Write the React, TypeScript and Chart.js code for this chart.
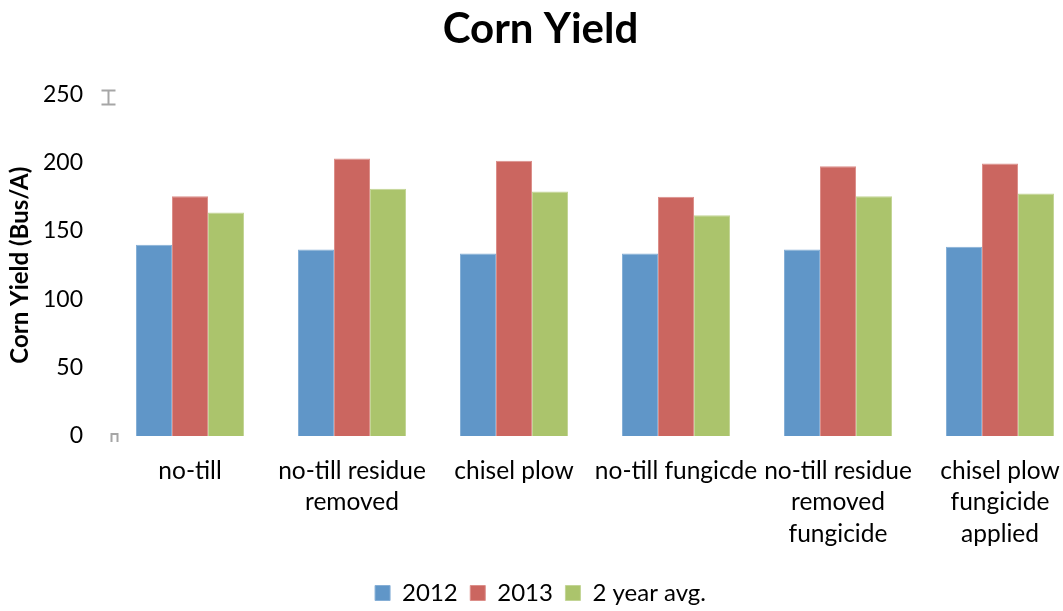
import React, { useEffect, useRef } from "react";
import { Chart, registerables } from "chart.js";

Chart.register(...registerables);

const categories: string[][] = [
  ["no-till"],
  ["no-till residue", "removed"],
  ["chisel plow"],
  ["no-till fungicde"],
  ["no-till residue", "removed", "fungicide"],
  ["chisel plow", "fungicide", "applied"],
];
const series2012 = [140, 136.5, 133.5, 133.5, 136.5, 138.5];
const series2013 = [175.5, 203, 201.5, 175, 197.5, 199.5];
const seriesAvg = [163.5, 181, 179, 161.5, 175.5, 177.5];
const seriesNames = ["2012", "2013", "2 year avg."];
const yMin = 0;
const yMax = 250;
const yStep = 50;

const FONT = "Lato, 'Open Sans', sans-serif";

export default function App() {
  const ref = useRef<HTMLCanvasElement>(null);

  useEffect(() => {
    if (!ref.current) return;
    const errGlyph = {
      id: "errGlyph",
      afterDatasetsDraw(chart: any) {
        const { ctx, chartArea, scales } = chart;
        const y = scales.y;
        const cx = chartArea.left - 0.5;
        const yTop = y.getPixelForValue(yMax);
        const y0 = y.getPixelForValue(yMin);
        ctx.save();
        ctx.strokeStyle = "#a6a6a6";
        ctx.lineWidth = 2;
        ctx.beginPath();
        ctx.moveTo(cx - 7, yTop - 4);
        ctx.lineTo(cx + 7, yTop - 4);
        ctx.moveTo(cx, yTop - 4);
        ctx.lineTo(cx, yTop + 10);
        ctx.moveTo(cx - 7, yTop + 10);
        ctx.lineTo(cx + 7, yTop + 10);
        ctx.stroke();
        ctx.beginPath();
        ctx.moveTo(cx + 3, y0 + 6);
        ctx.lineTo(cx + 3, y0 - 2);
        ctx.lineTo(cx + 9, y0 - 2);
        ctx.lineTo(cx + 9, y0 + 6);
        ctx.stroke();
        ctx.restore();
      },
    };

    const chart = new Chart(ref.current, {
      type: "bar",
      data: {
        labels: categories as any,
        datasets: [
          {
            label: seriesNames[0],
            data: series2012,
            backgroundColor: "#6096c8",
            borderColor: "#86afd6",
            borderWidth: 1,
          },
          {
            label: seriesNames[1],
            data: series2013,
            backgroundColor: "#cb6660",
            borderColor: "#dc8f8a",
            borderWidth: 1,
          },
          {
            label: seriesNames[2],
            data: seriesAvg,
            backgroundColor: "#abc46c",
            borderColor: "#c3d596",
            borderWidth: 1,
          },
        ],
      },
      options: {
        responsive: false,
        animation: false,
        layout: { padding: { left: 0, right: 1, top: 0, bottom: -4 } },
        datasets: {
          bar: { categoryPercentage: 0.6667, barPercentage: 1 },
        } as any,
        plugins: {
          title: {
            display: true,
            text: "Corn Yield",
            color: "#000",
            font: { family: FONT, size: 42, weight: "bold" },
            padding: { top: 4, bottom: 40 },
          },
          legend: {
            position: "bottom",
            labels: {
              boxWidth: 15,
              boxHeight: 15,
              color: "#000",
              font: { family: FONT, size: 24 },
              padding: 12.5,
            },
          },
          tooltip: { enabled: false },
        },
        scales: {
          x: {
            grid: { display: false, drawTicks: false },
            border: { display: false },
            ticks: {
              color: "#000",
              font: { family: FONT, size: 24.5, lineHeight: 1.286 },
              padding: 19,
              maxRotation: 0,
              minRotation: 0,
              autoSkip: false,
            },
          },
          y: {
            min: yMin,
            max: yMax,
            grid: { display: false, drawTicks: false },
            border: { display: false },
            ticks: {
              stepSize: yStep,
              color: "#000",
              font: { family: FONT, size: 23 },
              padding: 26,
            },
            title: {
              display: true,
              text: "Corn Yield (Bus/A)",
              color: "#000",
              font: { family: FONT, size: 24, weight: "bold" },
              padding: { top: 6, bottom: 0 },
            },
            afterFit(scale: any) {
              scale.width = 109;
            },
          },
        },
      },
      plugins: [errGlyph],
    });
    return () => chart.destroy();
  }, []);

  return (
    <div
      style={{
        position: "absolute",
        left: 0,
        top: 0,
        width: 1063,
        height: 611,
        overflow: "hidden",
        background: "#fff",
      }}
    >
      <canvas
        ref={ref}
        width={1082}
        height={611}
        style={{ display: "block", width: 1082, height: 611 }}
      />
    </div>
  );
}
